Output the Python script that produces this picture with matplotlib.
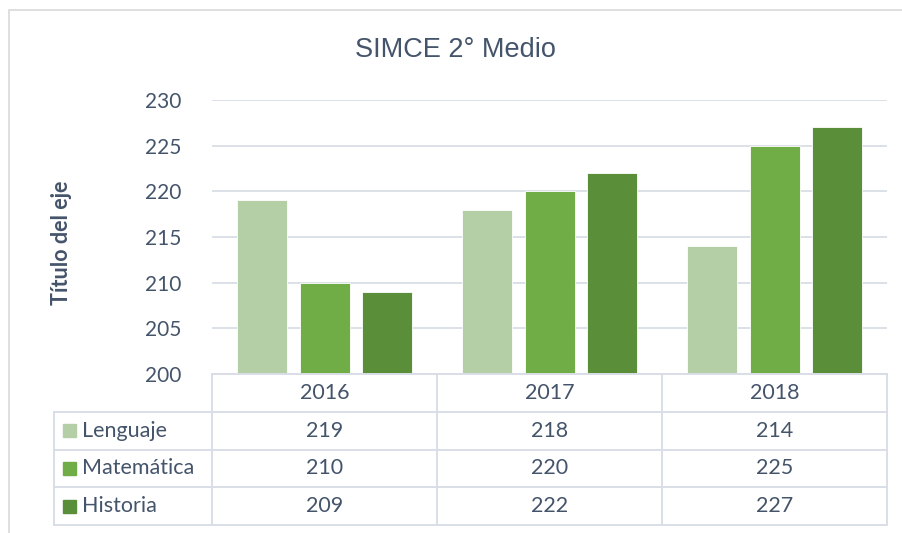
import matplotlib
matplotlib.use("Agg")
import matplotlib.pyplot as plt
from matplotlib.patches import Rectangle
import numpy as np

# ---- data ----
years = ["2016", "2017", "2018"]
series_names = ["Lenguaje", "Matemática", "Historia"]
lenguaje = [219, 218, 214]
matematica = [210, 220, 225]
historia = [209, 222, 227]
values = [lenguaje, matematica, historia]
colors = ["#B4CFA6", "#70AD47", "#5A8E38"]
yticks = [200, 205, 210, 215, 220, 225, 230]
title = "SIMCE 2° Medio"
ylabel = "Título del eje"

TXT = "#44546A"
GRID = "#D9DEE6"
W, H = 902, 533

plt.rcParams['font.family'] = ['Lato', 'DejaVu Sans']

fig = plt.figure(figsize=(W / 100, H / 100), dpi=100)

def fx(px):
    return px / W

def fy(py):
    return 1 - py / H

# outer chart border
fig.patches.append(Rectangle((fx(9), fy(560)), fx(1000), fy(10) - fy(560),
                             transform=fig.transFigure, fill=False,
                             edgecolor="#D9D9D9", linewidth=1.2))

# main plot area
pl, pr, pt, pb = 212, 887, 100, 374
ax = fig.add_axes([fx(pl), fy(pb), fx(pr - pl), fy(pt) - fy(pb)])
ax.set_xlim(-0.5, len(years) - 0.5)
ax.set_ylim(yticks[0], yticks[-1])
x = np.arange(len(years))
bw = 50 / 225
off = 62.5 / 225
for i, (vals, c) in enumerate(zip(values, colors)):
    ax.bar(x + (i - 1) * off, np.array(vals) - yticks[0], width=bw,
           bottom=yticks[0], color=c, edgecolor="#FFFFFF", linewidth=0.6,
           zorder=3)
ax.set_yticks(yticks)
ax.set_yticklabels([str(t) for t in yticks], fontsize=15, color=TXT)
ax.tick_params(axis="y", length=0, pad=22)
ax.set_xticks([])
ax.grid(axis="y", color=GRID, linewidth=1.3, zorder=0)
for s in ax.spines.values():
    s.set_visible(False)
ax.patch.set_alpha(0)

fig.text(fx(455), fy(50), title, ha="center", va="center", fontsize=19.5,
         color=TXT, family=["Liberation Sans"])
fig.text(fx(62), fy(243), ylabel, ha="center", va="center", rotation=90,
         fontsize=15.5, fontweight="bold", color=TXT)

# data table
tl, tr, tt, tb = 54, 887, 374, 525
tax = fig.add_axes([fx(tl), fy(tb), fx(tr - tl), fy(tt) - fy(tb)])
tax.set_xlim(tl, tr)
tax.set_ylim(tb, tt)
tax.axis("off")
colw = (pr - pl) / len(years)
rowh = (tb - tt) / (len(series_names) + 1)
lw = 1.4
# column lines
for k in range(len(years) + 1):
    xx = pl + k * colw
    tax.plot([xx, xx], [tt, tb], color=GRID, lw=lw, clip_on=False)
tax.plot([tl, tl], [tt + rowh, tb], color=GRID, lw=lw, clip_on=False)
# row lines
tax.plot([pl, pr], [tt, tt], color=GRID, lw=lw, clip_on=False)
for r in range(1, len(series_names) + 2):
    yy = tt + r * rowh
    tax.plot([tl, pr], [yy, yy], color=GRID, lw=lw, clip_on=False)
# header
FS = 15.5
for k, yr in enumerate(years):
    tax.text(pl + (k + 0.5) * colw, tt + 0.5 * rowh, yr, ha="center",
             va="center", fontsize=FS, color=TXT)
# rows
for r, (name, vals, c) in enumerate(zip(series_names, values, colors)):
    yc = tt + (r + 1.5) * rowh
    tax.add_patch(Rectangle((63, yc - 6.5), 13, 13, color=c, clip_on=False))
    tax.text(82, yc, name, ha="left", va="center", fontsize=FS, color=TXT)
    for k, v in enumerate(vals):
        tax.text(pl + (k + 0.5) * colw, yc, str(v), ha="center", va="center",
                 fontsize=FS, color=TXT)

fig.savefig("out.png", dpi=100)
